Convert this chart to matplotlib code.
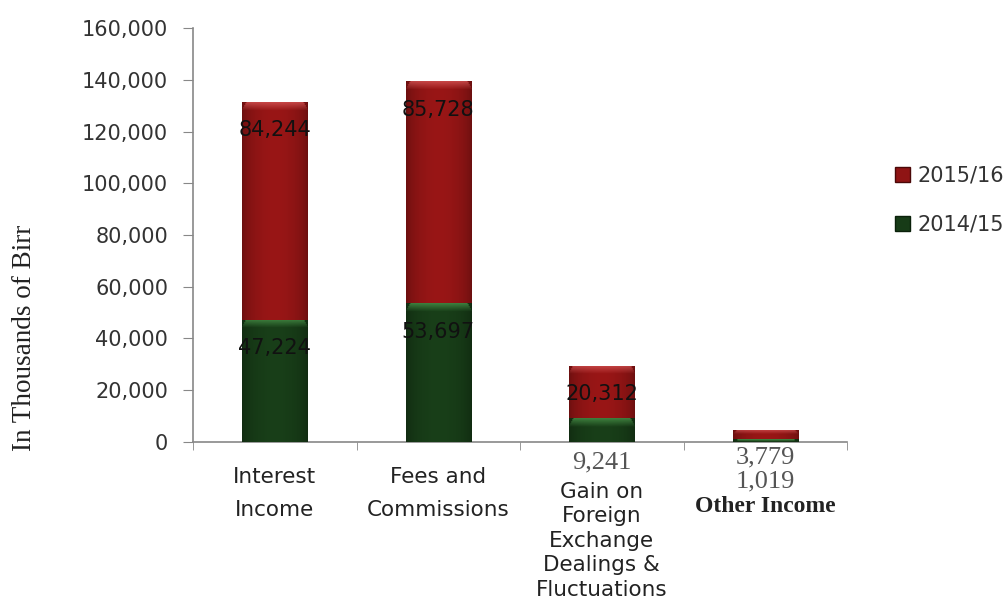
import numpy as np
import matplotlib.pyplot as plt
from matplotlib.patches import Patch

categories = ['Interest\nIncome', 'Fees and\nCommissions',
              'Gain on\nForeign\nExchange\nDealings &\nFluctuations', 'Other Income']
fy2014 = [47224, 53697, 9241, 1019]
fy2015 = [84244, 85728, 20312, 3779]

RED = np.array([0.56, 0.08, 0.08])
GREEN = np.array([0.09, 0.23, 0.09])


def shaded_bar(ax, x, bottom, height, width, color, light):
    """Bar with cylinder shading and a light bevel along its top."""
    patch = ax.bar(x, height, width, bottom=bottom, color=color,
                   edgecolor='none', zorder=2)[0]
    px_per_unit = ax.bbox.height / (ax.get_ylim()[1] - ax.get_ylim()[0])
    rows = max(int(height * px_per_unit), 2)
    cols = 60
    u = np.linspace(0, 1, cols)
    shade = 0.75 + 0.32 * np.sin(np.pi * u) ** 0.6
    img = np.ones((rows, cols, 3)) * color * shade[None, :, None]
    bevel = min(8, rows // 2)
    for r in range(bevel):
        t = 1 - r / max(bevel, 1)
        inset = int((bevel - r) / bevel * 4)
        img[r, inset:cols - inset] = (1 - 0.7 * t) * img[r, inset:cols - inset] + 0.7 * t * light
    img = np.clip(img, 0, 1)
    im = ax.imshow(img, extent=(x - width / 2, x + width / 2, bottom, bottom + height),
                   aspect='auto', zorder=3, interpolation='bilinear')
    im.set_clip_path(patch)


def below_axis(ax, i, text, dy, **kw):
    """Text centred under category i, dy pixels below the x axis."""
    ax.annotate(text, xy=(i, 0), xycoords=('data', 'axes fraction'),
                xytext=(0, -dy), textcoords='offset pixels',
                ha='center', va='center', annotation_clip=False, **kw)


fig = plt.figure(figsize=(10.08, 6.12), dpi=100)
ax = fig.add_axes([0.1915, 0.2778, 0.6488, 0.6764])
ax.set_xlim(-0.5, 3.5)
ax.set_ylim(0, 160000)

x = np.arange(len(categories))
width = 0.4
for i in x:
    shaded_bar(ax, i, 0, fy2014[i], width, GREEN, np.array([0.30, 0.60, 0.30]))
    shaded_bar(ax, i, fy2014[i], fy2015[i], width, RED, np.array([0.85, 0.35, 0.35]))

# value labels inside the bars
for i in range(3):
    top15 = fy2014[i] + fy2015[i]
    ax.text(i, top15 - 11000, f'{fy2015[i]:,}', ha='center', va='center',
            fontsize=15, color='#111111', zorder=5)
for i in range(2):
    ax.text(i, fy2014[i] - 11000, f'{fy2014[i]:,}', ha='center', va='center',
            fontsize=15, color='#111111', zorder=5)

# small values sit under the axis in a serif face
serif = 'Liberation Serif'
below_axis(ax, 2, f'{fy2014[2]:,}', 20, family=serif, fontsize=19, color='#555555')
below_axis(ax, 3, f'{fy2015[3]:,}', 15, family=serif, fontsize=19, color='#555555')
below_axis(ax, 3, f'{fy2014[3]:,}', 39, family=serif, fontsize=19, color='#555555')

# category labels, one line at a time
line_layout = {0: (35, 33), 1: (35, 33), 2: (50, 24.5)}
for i, (first, step) in line_layout.items():
    for k, line in enumerate(categories[i].split('\n')):
        below_axis(ax, i, line, first + k * step, fontsize=15.5, color='#222222')
below_axis(ax, 3, categories[3], 65, family=serif, fontsize=17,
           fontweight='bold', color='#222222')

ax.set_xticks([])
ax.set_xticks(np.arange(-0.5, 4, 1), minor=True)
ax.tick_params(axis='x', which='minor', length=6, color='#888888', direction='out')
ax.set_yticks(np.arange(0, 160001, 20000))
ax.set_yticklabels([f'{v:,}' for v in range(0, 160001, 20000)])
ax.tick_params(axis='y', length=7, color='#888888', labelsize=15,
               labelcolor='#333333', pad=11)
for s in ['top', 'right']:
    ax.spines[s].set_visible(False)
for s in ['left', 'bottom']:
    ax.spines[s].set_color('#888888')
    ax.spines[s].set_linewidth(1.2)

fig.text(0.024, 0.448, 'In Thousands of Birr', rotation=90, ha='center',
         va='center', family=serif, fontsize=19.5, color='#222222')

handles = [Patch(facecolor=RED, edgecolor='#4a0808', label='2015/16'),
           Patch(facecolor=GREEN, edgecolor='#0a200a', label='2014/15')]
fig.legend(handles=handles, loc='center left', bbox_to_anchor=(0.888, 0.673),
           frameon=False, fontsize=15, handlelength=0.72, handleheight=0.72,
           handletextpad=0.34, labelspacing=1.4, borderpad=0, borderaxespad=0,
           labelcolor='#333333')

fig.savefig('out.png', dpi=100)
